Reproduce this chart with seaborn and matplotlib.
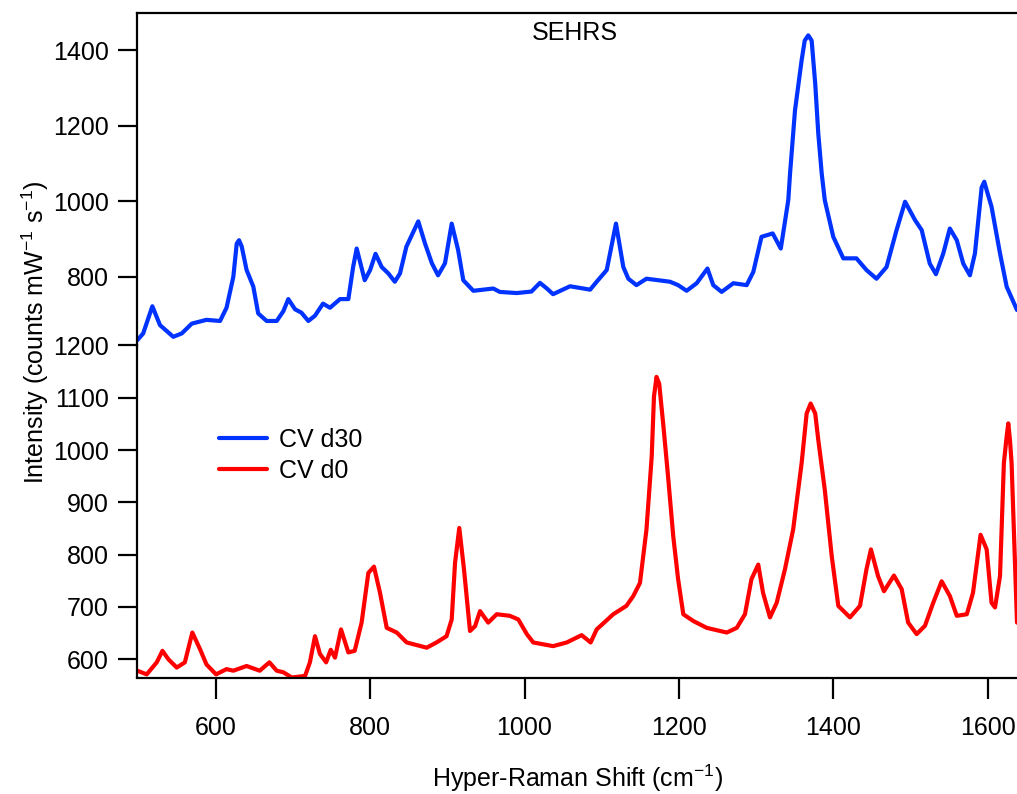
import numpy as np
import pandas as pd
import matplotlib
matplotlib.use("Agg")
import matplotlib.pyplot as plt
import seaborn as sns

# ---- data ----
blue_x = [498.4, 506, 517.9, 527.8, 545, 556, 569, 588, 605.6, 614, 622.8, 627.2, 630.2, 633.7, 640, 648.7,
          655, 666, 679, 687.6, 694, 702.7, 711, 720, 728.6, 739, 748, 761, 771.8, 778, 782.6, 793, 800,
          807, 815, 823.6, 832, 838.7, 847, 862.4, 871, 880, 888, 897, 905.7, 914, 920.7, 933.7, 959.6,
          968, 990, 1009, 1020, 1029, 1037, 1059, 1085, 1093.5, 1106.5, 1118.5, 1128, 1134.5, 1145, 1158,
          1188.5, 1199, 1210, 1223, 1237, 1244.5, 1255.4, 1270.5, 1287.8, 1296.4, 1307, 1321.5, 1332,
          1341.7, 1344, 1350.4, 1359, 1363, 1367.6, 1372, 1376.6, 1380.6, 1385, 1389, 1400, 1413, 1430,
          1443, 1456, 1469, 1482, 1493, 1506, 1514.5, 1525, 1533, 1542.5, 1551, 1560, 1568.4, 1577,
          1583.5, 1592.2, 1595.6, 1599.5, 1605, 1616, 1624.6, 1638]
blue_y = [632, 650, 722, 672, 641, 650, 676, 686, 683, 718, 800, 888, 897, 880, 818, 774,
          703, 683, 683, 709, 741, 714, 705, 683, 697, 729, 718, 741, 741, 826, 875, 791, 818,
          861, 826, 809, 787, 809, 880, 947, 889, 836, 804, 836, 941, 871, 791, 763, 769,
          760, 757, 761, 784, 769, 754, 775, 766, 787, 818, 941, 826, 795, 778, 795,
          787, 778, 763, 783, 822, 778, 760, 783, 778, 813, 906, 915, 875,
          1003, 1074, 1241, 1374, 1426, 1440, 1426, 1312, 1179, 1074, 1003, 906, 849, 849,
          818, 795, 826, 924, 999, 950, 924, 835, 807, 862, 928, 897, 835, 804,
          862, 1037, 1052, 1024, 986, 862, 774, 712]

red_x = [498.4, 510.6, 523.6, 531, 538.6, 549.5, 560, 569.7, 579.7, 588, 600.4, 614, 622.8, 640, 657,
         669.5, 679, 687.6, 698.4, 715.7, 722, 728.6, 735, 743, 749, 754.5, 762.3, 771.8, 780, 789,
         797.7, 805, 812.8, 821.5, 834.5, 847.4, 873.3, 886, 899, 905.7, 910, 915.5, 921.6, 929.4,
         935.9, 942.4, 953, 964, 981, 992, 1003, 1011.4, 1037, 1054.7, 1074, 1085.7, 1093.5, 1115,
         1132, 1141, 1149.6, 1158, 1164.8, 1167.7, 1171, 1174.5, 1180, 1186, 1192.7, 1199, 1205.7,
         1218.7, 1236, 1262, 1275, 1285.6, 1294, 1302.8, 1309, 1318, 1326.7, 1337.4, 1348, 1359,
         1365.5, 1370.7, 1376.6, 1380.6, 1389, 1398, 1406.5, 1421.6, 1434.6, 1443, 1448.8, 1458,
         1465.7, 1478.6, 1488.6, 1497, 1508, 1518.8, 1529.5, 1540.4, 1551, 1560, 1573, 1581, 1590.8,
         1598.7, 1605, 1609.5, 1616, 1621, 1624.6, 1626.7, 1628.9, 1631, 1638]
red_y = [578, 571, 594, 616, 600, 584, 594, 651, 619, 590, 571, 581, 578, 587, 578,
         594, 578, 575, 565, 568, 594, 644, 610, 594, 618, 603, 657, 613, 616, 670,
         765, 777, 727, 660, 651, 632, 622, 632, 644, 676, 784, 851, 772, 654,
         663, 692, 670, 686, 683, 676, 648, 632, 625, 632, 646, 632, 657, 686,
         702, 721, 746, 848, 988, 1102, 1140, 1127, 1045, 949, 835, 753, 686,
         673, 660, 651, 660, 686, 753, 781, 727, 680, 708, 772, 848, 975,
         1070, 1089, 1070, 1019, 924, 797, 702, 680, 702, 772, 810, 759,
         730, 760, 734, 670, 648, 664, 708, 749, 721, 683, 686, 727, 838,
         810, 708, 699, 759, 975, 1026, 1051, 1019, 975, 670]

series_labels = ["CV d30", "CV d0"]
top_ticks = [800, 1000, 1200, 1400]
bottom_ticks = [600, 700, 800, 900, 1000, 1100, 1200]
x_ticks = [600, 800, 1000, 1200, 1400, 1600]

# ---- style ----
sns.set_theme(style="ticks")
plt.rcParams["font.family"] = ["Liberation Sans", "DejaVu Sans"]
plt.rcParams["mathtext.fontset"] = "custom"
plt.rcParams["mathtext.rm"] = "Liberation Sans"
plt.rcParams["mathtext.it"] = "Liberation Sans"
FS = 18

W, H = 1017, 794
fig = plt.figure(figsize=(W / 100, H / 100), dpi=100)

left = 137.3 / W
top_px, mid_px, bot_px = 12.7, 345.5, 677.5
ax_top = fig.add_axes([left, 1 - mid_px / H, 1 - left, (mid_px - top_px) / H])
ax_bot = fig.add_axes([left, 1 - bot_px / H, 1 - left, (bot_px - mid_px) / H])
for a in (ax_top, ax_bot):
    a.patch.set_alpha(0)

blue = "#0033ff"
red = "#ff0000"
df_b = pd.DataFrame({"x": blue_x, "y": blue_y})
df_r = pd.DataFrame({"x": red_x, "y": red_y})
sns.lineplot(data=df_b, x="x", y="y", ax=ax_top, color=blue, lw=3.0, label=series_labels[0], legend=False)
sns.lineplot(data=df_r, x="x", y="y", ax=ax_bot, color=red, lw=3.0, label=series_labels[1], legend=False)

xlim = (498.4, 1638)
ax_top.set_xlim(*xlim)
ax_bot.set_xlim(*xlim)
ax_top.set_ylim(618, 1500)
ax_bot.set_ylim(565, 1200)

# spines
for s in ["bottom", "right"]:
    ax_top.spines[s].set_visible(False)
for s in ["top", "right"]:
    ax_bot.spines[s].set_visible(False)
for a in (ax_top, ax_bot):
    for s in a.spines.values():
        s.set_linewidth(1.6)
        s.set_color("black")

ax_top.set_xticks([])
ax_top.set_yticks(top_ticks)
ax_bot.set_yticks(bottom_ticks)
ax_bot.set_xticks(x_ticks)
for a in (ax_top, ax_bot):
    a.tick_params(axis="y", direction="out", length=13.5, width=1.6, pad=7, labelsize=FS, colors="black")
ax_bot.tick_params(axis="x", direction="out", length=15, width=1.6, pad=13, labelsize=FS, colors="black")
ax_top.set_xlabel("")
ax_top.set_ylabel("")
ax_bot.set_ylabel("")
ax_bot.set_xlabel("Hyper-Raman Shift (cm$^{-1}$)", fontsize=FS, labelpad=16, color="black")

fig.text(35 / W, 1 - 332 / H, "Intensity (counts mW$^{-1}$ s$^{-1}$)", rotation=90,
         ha="center", va="center", fontsize=FS, color="black")
fig.text(575 / W, 1 - 33 / H, "SEHRS", ha="center", va="center", fontsize=FS, color="black")

h1, l1 = ax_top.get_legend_handles_labels()
h2, l2 = ax_bot.get_legend_handles_labels()
leg = ax_bot.legend(h1 + h2, l1 + l2, loc="upper left", bbox_to_anchor=(219 / W, 1 - 428 / H),
                    bbox_transform=fig.transFigure, frameon=False, fontsize=FS, borderpad=0,
                    borderaxespad=0, handlelength=1.92, handletextpad=0.48, labelspacing=0.28)
for t in leg.get_texts():
    t.set_color("black")

fig.savefig("out.png", dpi=100)
